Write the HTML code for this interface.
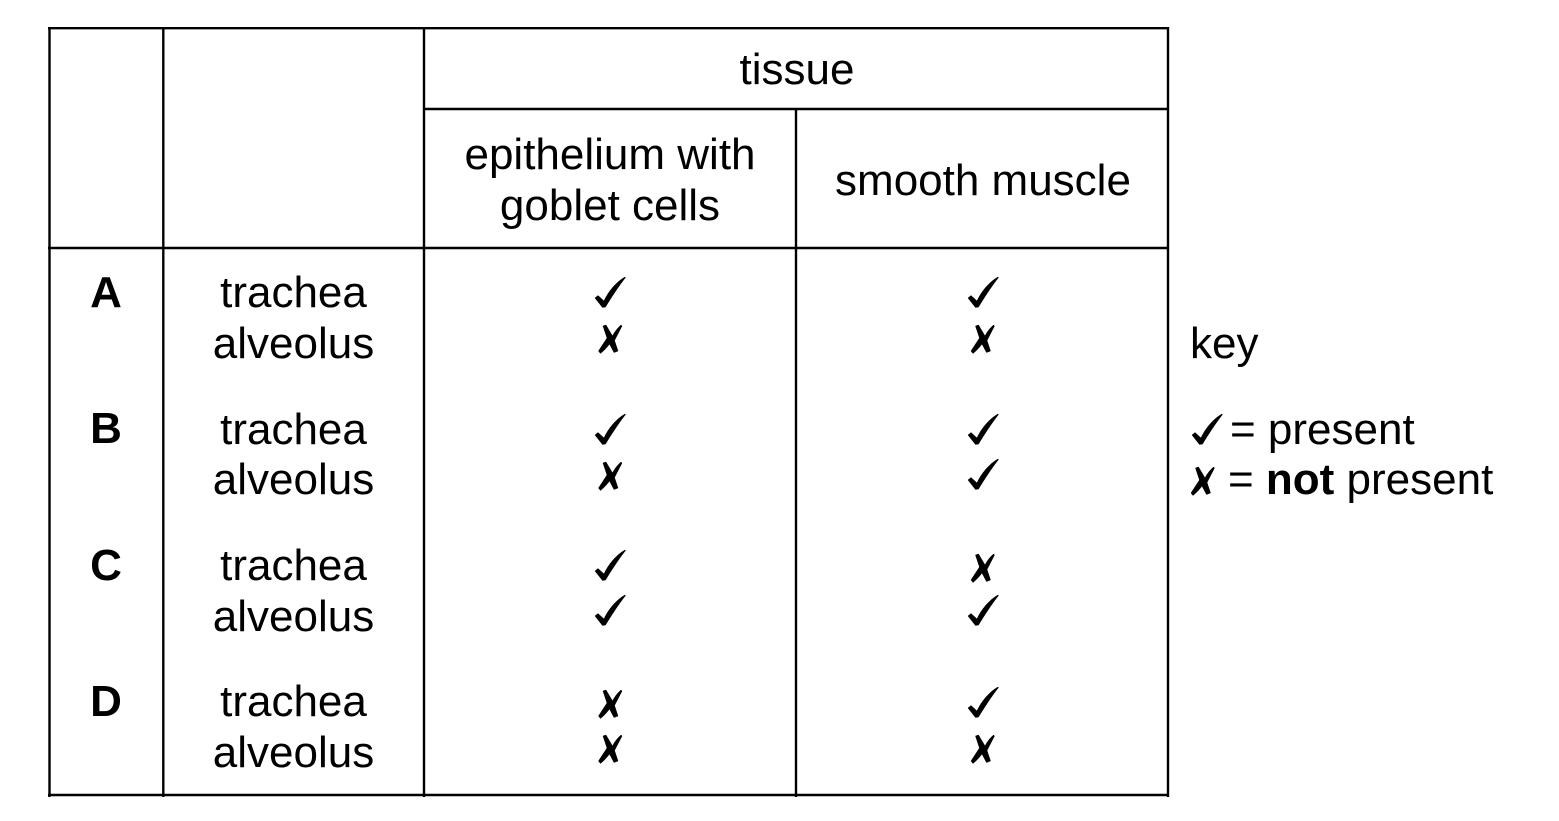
<!DOCTYPE html>
<html>
<head>
<meta charset="utf-8">
<style>
html,body{margin:0;padding:0;background:#fff}
svg{display:block}
text{font-family:"Liberation Sans",Arial,sans-serif;font-size:44px;fill:#000}
.m{text-anchor:middle}
.b{font-weight:bold}
</style>
</head>
<body>
<svg width="1559" height="821" viewBox="0 0 1559 821" xmlns="http://www.w3.org/2000/svg">
<defs>
<path id="t" d="M-15 6 L-12 3.5 L-6 9 C-2 0 6 -10 15 -15 L15.5 -14.5 C8 -5 1 6 -4.5 15 L-7.5 15.5 Z" fill="#000" stroke="#000" stroke-width=".5" stroke-linejoin="round"/>
<path id="x" d="M-3.5 -14 L3 -3 C5 -7 8 -11 11.5 -14 L12.5 -13 L5 1.5 L8.5 12 L4.5 13.5 L0 5 C-3 9 -6 12 -9 14.5 L-11 12 L-2.5 -1 L-6.5 -13 Z" fill="#000" stroke="#000" stroke-width=".5" stroke-linejoin="round"/>
</defs>

<g stroke="#000" stroke-width="2.4" fill="none">
<path d="M48 28.2H1169"/>
<path d="M424 109H1169"/>
<path d="M48 248H1169"/>
<path d="M48 795H1169"/>
<path d="M49.5 27V797"/>
<path d="M163.3 27V797"/>
<path d="M424 27V797"/>
<path d="M796 108V797"/>
<path d="M1168 27V797"/>
</g>

<text class="m" x="797" y="84">tissue</text>
<text class="m" x="610" y="169">epithelium with</text>
<text class="m" x="610" y="220">goblet cells</text>
<text class="m" x="983" y="195">smooth muscle</text>

<text class="m b" x="106" y="307">A</text>
<text class="m" x="293.5" y="307">trachea</text>
<text class="m" x="293.5" y="358">alveolus</text>
<text class="m b" x="106" y="443">B</text>
<text class="m" x="293.5" y="444">trachea</text>
<text class="m" x="293.5" y="494">alveolus</text>
<text class="m b" x="106" y="580">C</text>
<text class="m" x="293.5" y="580">trachea</text>
<text class="m" x="293.5" y="631">alveolus</text>
<text class="m b" x="106" y="716">D</text>
<text class="m" x="293.5" y="716">trachea</text>
<text class="m" x="293.5" y="767">alveolus</text>

<use href="#t" x="610" y="292"/><use href="#x" x="609.5" y="339"/>
<use href="#t" x="983" y="292"/><use href="#x" x="982" y="339"/>
<use href="#t" x="610" y="429"/><use href="#x" x="609.5" y="476"/>
<use href="#t" x="983" y="429"/><use href="#t" x="983" y="474"/>
<use href="#t" x="610" y="565"/><use href="#t" x="610" y="610"/>
<use href="#x" x="982" y="568"/><use href="#t" x="983" y="610"/>
<use href="#x" x="609.5" y="704"/><use href="#x" x="609.5" y="749"/>
<use href="#t" x="983" y="702"/><use href="#x" x="982" y="749"/>

<text x="1190" y="358">key</text>
<use href="#t" x="1207" y="429"/>
<text x="1230" y="444">= present</text>
<use href="#x" x="1202" y="481"/>
<text x="1228" y="494">= <tspan class="b">not</tspan> present</text>
</svg>
</body>
</html>
